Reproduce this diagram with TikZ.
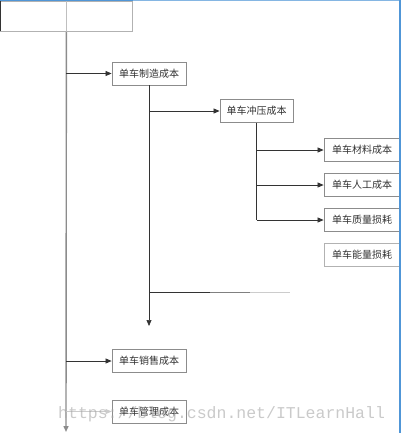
\documentclass[tikz,border=0pt]{standalone}
\usepackage{fontspec}
\newfontfamily\cjk{Noto Sans CJK SC}
\newfontfamily\wmfont{Liberation Mono}
\usetikzlibrary{arrows.meta}
\definecolor{edgeblue}{RGB}{80,150,215}
\begin{document}
\begin{tikzpicture}[x=1pt,y=-1pt,
  box/.style={draw=black!45, line width=0.8pt, fill=white, minimum width=74pt, minimum height=23pt, inner sep=0pt, font=\cjk\fontsize{10}{12}\selectfont, text=black!80},
  conn/.style={draw=black!80, line width=0.7pt},
  arr/.style={conn, -{Triangle[length=6pt,width=5pt]}}]
\useasboundingbox (0,0) rectangle (401,433);
% top box
\node[draw=black!30, line width=0.8pt, minimum width=132pt, minimum height=30pt, inner sep=0pt, anchor=north west] (top) at (0,1) {};
\draw[black!25, line width=0.8pt] (top.north) -- (top.south);
\draw[edgeblue!70, line width=1pt] (0,0.5) -- (401,0.5);
\draw[edgeblue, line width=1.2pt] (0,0.6) -- (133,0.6);
\draw[black!80, line width=1pt] (0.5,1) -- (0.5,31);
% boxes
\node[box] (mfg) at (149,73.5) {单车制造成本};
\node[box, minimum width=73pt] (stamp) at (256.5,111) {单车冲压成本};
\node[box, minimum width=76pt] (mat) at (362,150) {单车材料成本};
\node[box, minimum width=76pt] (lab) at (362,185) {单车人工成本};
\node[box, minimum width=76pt] (qual) at (362,220) {单车质量损耗};
\node[box, minimum width=76pt, draw=black!30] (ener) at (362,255) {单车能量损耗};
\node[box] (sales) at (149,361) {单车销售成本};
\node[box] (mgmt) at (149,411.5) {单车管理成本};
% trunk
\coordinate (trunkend) at (66,432);
\coordinate (t1) at (66,73.5);
\coordinate (t2) at (66,361);
\coordinate (t3) at (66,411.5);
\draw[draw=black!45, line width=1.4pt, -{Triangle[length=6pt,width=5pt]}] (top.south) -- (trunkend);
\draw[arr] (t1) -- (mfg.west);
\draw[arr] (t2) -- (sales.west);
\draw[conn, draw=black!20, -{Triangle[length=6pt,width=5pt]}] (t3) -- (mgmt.west);
% second level
\coordinate (m1) at (mfg.south |- stamp.west);
\coordinate (m2) at (mfg.south |- 0,292);
\coordinate (m2a) at (210,292);
\coordinate (m2b) at (250,292);
\coordinate (m2end) at (290,292);
\coordinate (mend) at (mfg.south |- 0,326);
\draw[arr] (mfg.south) -- (mend);
\draw[arr] (m1) -- (stamp.west);
\draw[conn] (m2) -- (m2a);
\draw[conn, draw=black!50] (m2a) -- (m2b);
\draw[conn, draw=black!20] (m2b) -- (m2end);
% third level
\coordinate (s1) at (stamp.south |- mat.west);
\coordinate (s2) at (stamp.south |- lab.west);
\coordinate (s3) at (stamp.south |- qual.west);
\draw[conn] (stamp.south) -- (s3);
\draw[arr] (s1) -- (mat.west);
\draw[arr] (s2) -- (lab.west);
\draw[arr] (s3) -- (qual.west);
% right edge
\draw[edgeblue, line width=1.5pt] (400.2,0) -- (400.2,433);
% watermark
\node[font=\wmfont\fontsize{16.5}{18}\selectfont, text=black!35, opacity=0.6, anchor=base west, inner sep=0pt] (wm) at (58,418) {https://blog.csdn.net/ITLearnHall};
\end{tikzpicture}
\end{document}
